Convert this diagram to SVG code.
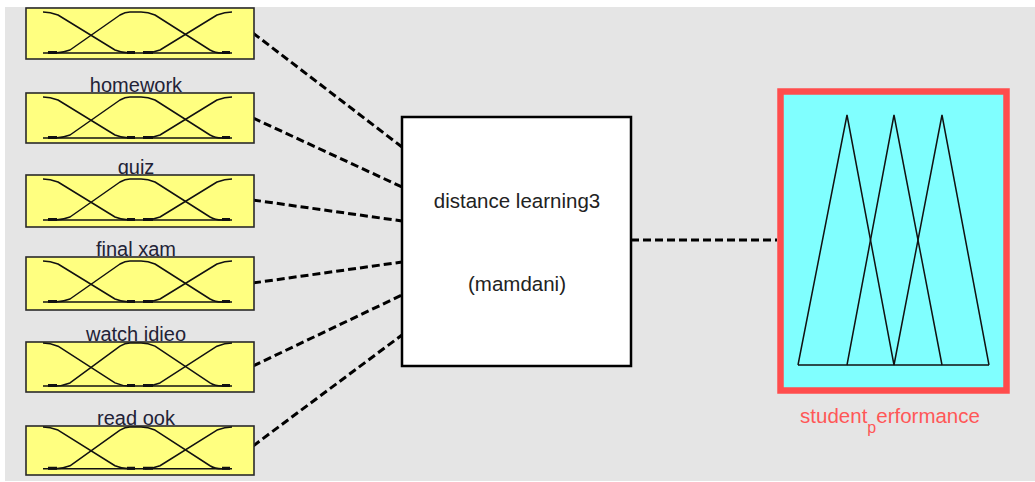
<svg xmlns="http://www.w3.org/2000/svg" xmlns:xlink="http://www.w3.org/1999/xlink" width="1035" height="482" viewBox="0 0 1035 482">
<style>
.bg{fill:#e5e5e5}
.inbox{fill:#ffff80;stroke:#2a2a2a;stroke-width:1.6}
.mf{fill:none;stroke:#111;stroke-width:1.5;stroke-linejoin:round}
.mfthick{fill:none;stroke:#111;stroke-width:3}
.lbl{font-family:"Liberation Sans",Arial,sans-serif;font-size:20px;fill:#222236;text-anchor:middle}
.core{fill:#fff;stroke:#000;stroke-width:2.5}
.ctext{font-family:"Liberation Sans",Arial,sans-serif;font-size:20.5px;fill:#222;text-anchor:middle}
.conn{fill:none;stroke:#000;stroke-width:3;stroke-dasharray:8 4}
.outbox{fill:#80ffff;stroke:#ff4d4d;stroke-width:6.5}
.tri{fill:none;stroke:#111;stroke-width:1.5;stroke-linejoin:miter}
.olbl{font-family:"Liberation Sans",Arial,sans-serif;font-size:20.5px;fill:#ff5757;text-anchor:middle}
</style>
<defs>
<g id="mfplot">
<path class="mf" d="M43,41 H232"/>
<path class="mf" d="M43,0 Q50,0 58,3 L115,38 Q122,41 130,41 L135,41"/>
<path class="mf" d="M48,41 L55,41 Q62,41 70,38 L120,3 Q125,0 130,0 L141,0 Q148,0 155,3 L210,38 Q215,41 222,41 L230,41"/>
<path class="mf" d="M145,41 Q152,41 160,38 L217,3 Q225,0 232,0"/>
<path class="mfthick" d="M48,40.5 H57 M127,40.5 H135 M143,40.5 H153 M222,40.5 H230"/>
</g>
</defs>
<rect class="bg" x="5" y="7" width="1030" height="474"/>

<g id="connectors">
<path class="conn" d="M253,33 L402,147"/>
<path class="conn" d="M253,118 L402,187"/>
<path class="conn" d="M253,200 L402,221"/>
<path class="conn" d="M253,283 L402,262"/>
<path class="conn" d="M253,366 L402,295"/>
<path class="conn" d="M253,446 L402,335"/>
<path class="conn" d="M631,240 L777,240"/>
</g>

<g id="homework">
<rect class="inbox" x="26" y="8" width="228" height="51"/>
<use xlink:href="#mfplot" transform="translate(0,12)"/>
<text class="lbl" x="136" y="92">homework</text>
</g>
<g id="quiz">
<rect class="inbox" x="26" y="93" width="228" height="50"/>
<use xlink:href="#mfplot" transform="translate(0,97)"/>
<text class="lbl" x="136" y="174">quiz</text>
</g>
<g id="final_exam">
<rect class="inbox" x="26" y="175" width="228" height="52"/>
<use xlink:href="#mfplot" transform="translate(0,179)"/>
<text class="lbl" x="136" y="256">final xam</text>
</g>
<g id="watch_video">
<rect class="inbox" x="26" y="257" width="228" height="53"/>
<use xlink:href="#mfplot" transform="translate(0,261)"/>
<text class="lbl" x="136" y="341">watch idieo</text>
</g>
<g id="read_book">
<rect class="inbox" x="26" y="342" width="228" height="50"/>
<use xlink:href="#mfplot" transform="translate(0,343) scale(1,1.05)"/>
<text class="lbl" x="136" y="425">read ook</text>
</g>
<g id="read_book_box">
<rect class="inbox" x="26" y="426" width="228" height="49"/>
<use xlink:href="#mfplot" transform="translate(0,427) scale(1,1.02)"/>
</g>

<g id="system">
<rect class="core" x="402" y="117" width="229" height="249"/>
<text class="ctext" x="517" y="208">distance learning3</text>
<text class="ctext" x="517" y="291">(mamdani)</text>
</g>

<g id="student_performance">
<rect class="outbox" x="780.5" y="91.5" width="226" height="299"/>
<path class="tri" d="M798,365 H989"/>
<path class="tri" d="M798,365 L847,115 L894,365"/>
<path class="tri" d="M847,365 L894,115 L942,365"/>
<path class="tri" d="M894,365 L942,115 L989,365"/>
<text class="olbl" x="890" y="423">student<tspan font-size="16" dy="10">p</tspan><tspan dy="-10">erformance</tspan></text>
</g>
</svg>
